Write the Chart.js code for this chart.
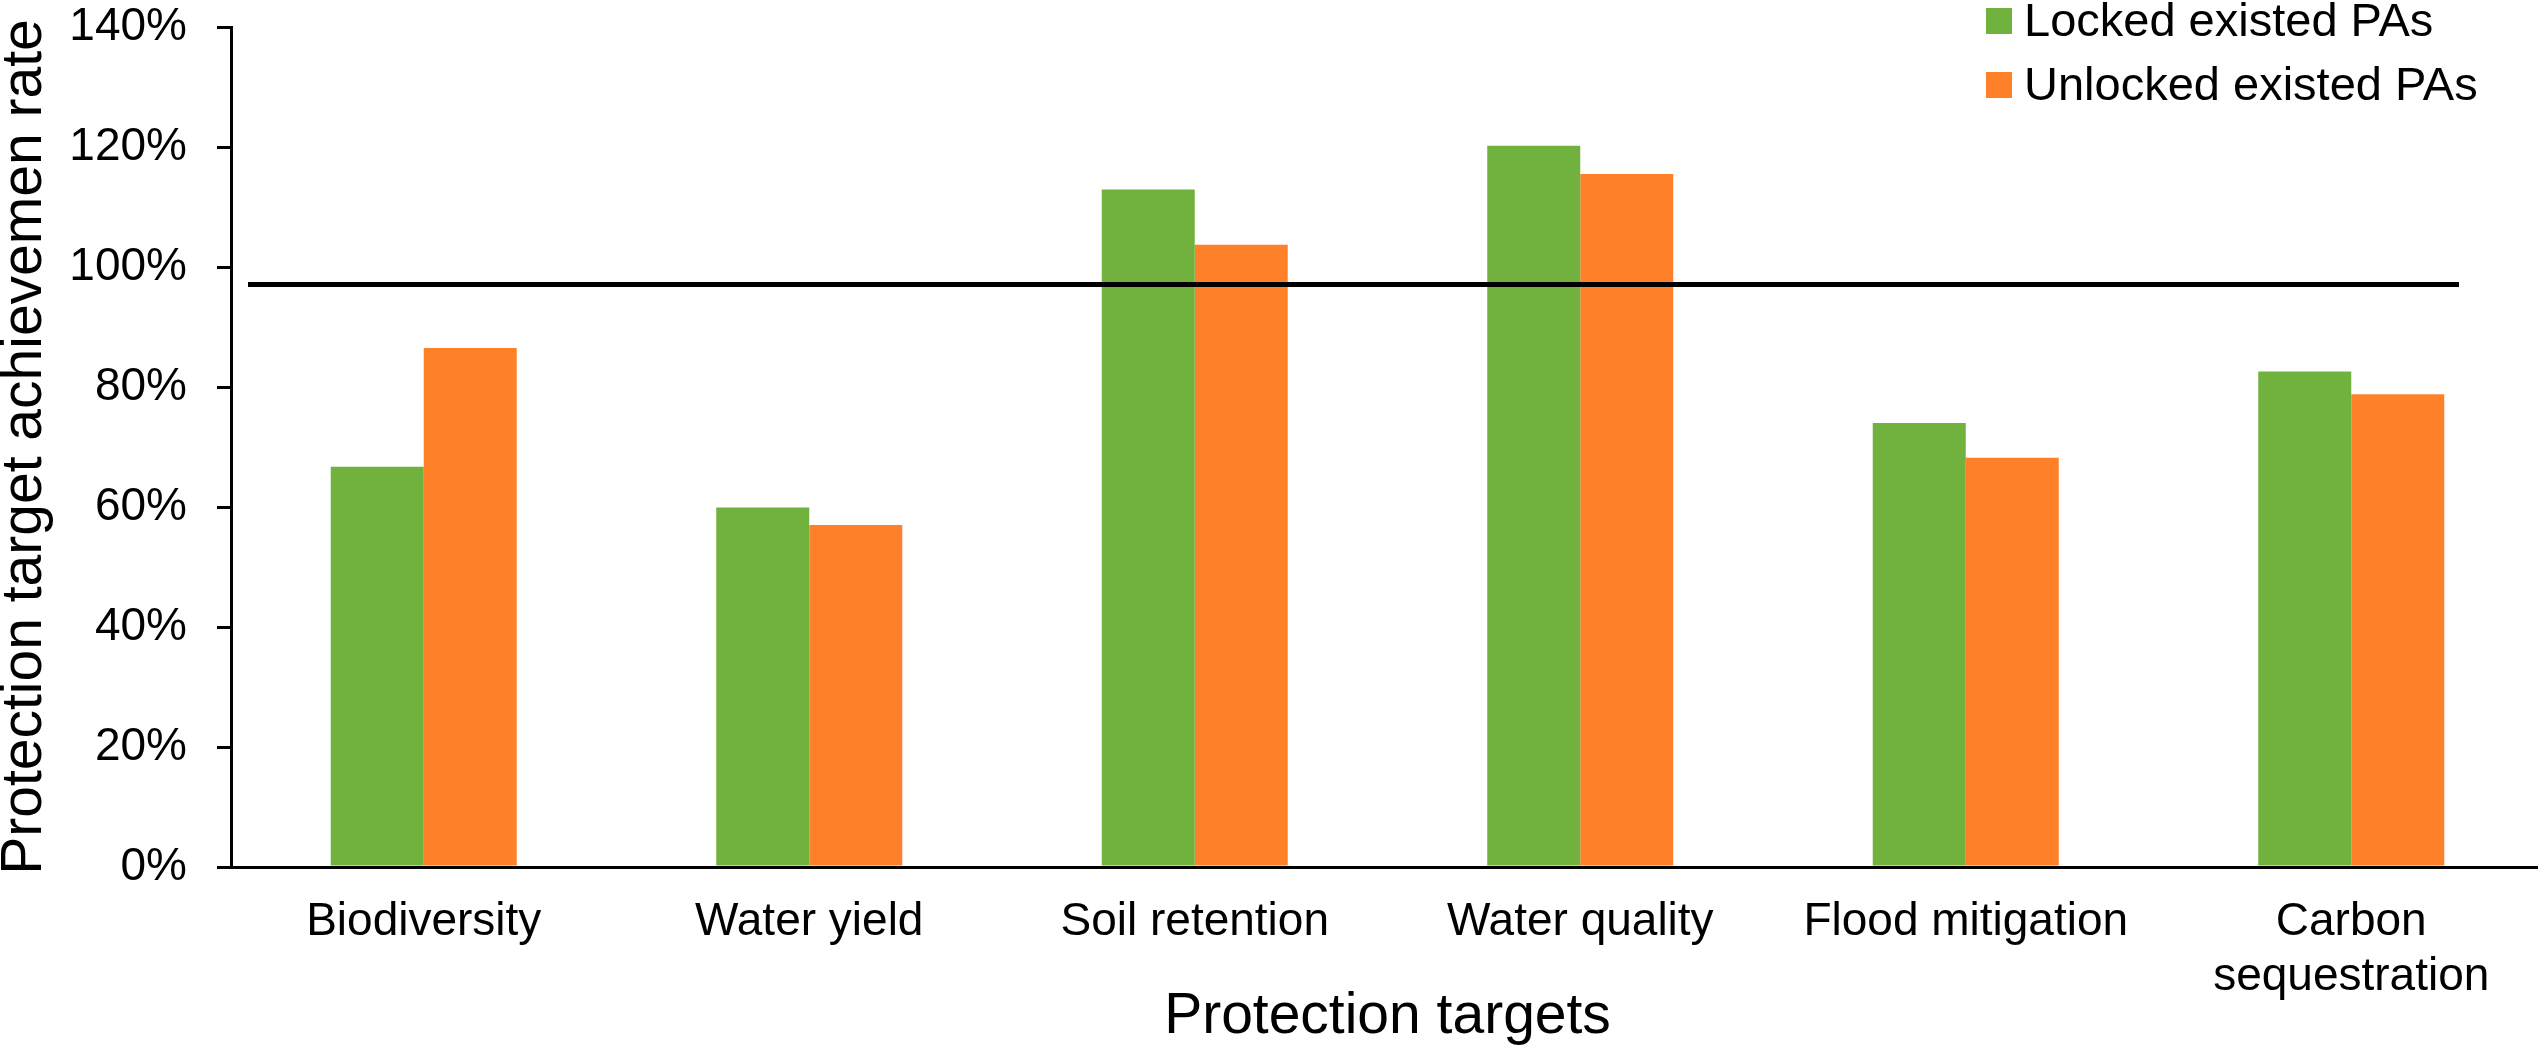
<!DOCTYPE html>
<html>
<head>
<meta charset="utf-8">
<script src="https://cdn.jsdelivr.net/npm/chart.js@4.4.1/dist/chart.umd.min.js"></script>
<style>
  html, body { margin: 0; padding: 0; background: #fff; overflow: hidden; }
  #wrap { width: 2544px; height: 1051px; position: relative; }
</style>
</head>
<body>
<div id="wrap"><canvas id="grafico"></canvas></div>
<script>
// dados (%)
const categorias = ['Biodiversity', 'Water yield', 'Soil retention', 'Water quality', 'Flood mitigation', ['Carbon', 'sequestration']];
const locked = [66.7, 59.9, 112.9, 120.2, 74.0, 82.6];
const unlocked = [86.5, 57.0, 103.7, 115.5, 68.2, 78.8];
const nomesSeries = ['Locked existed PAs', 'Unlocked existed PAs'];
const coresSeries = ['#71B23E', '#FE8028'];
const ticksY = [0, 20, 40, 60, 80, 100, 120, 140];
const linhaMeta = 97.1; // linha horizontal de referência

const fonte = '"Liberation Sans", Arial, sans-serif';

// linha de referência horizontal
const linhaPlugin = {
  id: 'linhaMeta',
  afterDatasetsDraw(chart) {
    const { ctx, chartArea, scales } = chart;
    const y = scales.y.getPixelForValue(linhaMeta);
    ctx.save();
    ctx.strokeStyle = '#000';
    ctx.lineWidth = 5;
    ctx.beginPath();
    ctx.moveTo(chartArea.left + 17, y);
    ctx.lineTo(chartArea.right - 85, y);
    ctx.stroke();
    ctx.restore();
  }
};

// legenda dentro da área do gráfico, canto superior direito
const legendaPlugin = {
  id: 'legendaDentro',
  afterDraw(chart) {
    const ctx = chart.ctx;
    ctx.save();
    ctx.font = '47px ' + fonte;
    ctx.textBaseline = 'alphabetic';
    ctx.textAlign = 'left';
    chart.data.datasets.forEach((ds, i) => {
      const top = 8 + i * 64;
      ctx.fillStyle = ds.backgroundColor;
      ctx.fillRect(1986, top, 26, 26);
      ctx.fillStyle = '#000';
      ctx.fillText(ds.label, 2024, top + 28);
    });
    ctx.restore();
  }
};

const ctx = document.getElementById('grafico').getContext('2d');
new Chart(ctx, {
  type: 'bar',
  data: {
    labels: categorias,
    datasets: [
      { label: nomesSeries[0], data: locked, backgroundColor: coresSeries[0], borderWidth: 0 },
      { label: nomesSeries[1], data: unlocked, backgroundColor: coresSeries[1], borderWidth: 0 }
    ]
  },
  options: {
    responsive: true,
    maintainAspectRatio: false,
    animation: false,
    layout: { padding: 0 },
    datasets: { bar: { categoryPercentage: 0.4825, barPercentage: 1 } },
    plugins: {
      legend: { display: false },
      tooltip: { enabled: false }
    },
    scales: {
      x: {
        grid: { display: false, drawTicks: false },
        border: { display: true, color: '#000', width: 3 },
        ticks: { color: '#000', font: { family: fonte, size: 46 }, padding: 28, maxRotation: 0, autoSkip: false },
        title: {
          display: true,
          text: 'Protection targets',
          color: '#000',
          font: { family: fonte, size: 57, lineHeight: 1.2 },
          padding: 0
        },
        afterFit(scale) { scale.height = 184; }
      },
      y: {
        min: 0,
        max: 140,
        afterBuildTicks(scale) { scale.ticks = ticksY.map(v => ({ value: v })); },
        grid: { drawOnChartArea: false, drawTicks: true, tickLength: 14, color: '#000', lineWidth: 3 },
        border: { display: true, color: '#000', width: 3 },
        ticks: {
          color: '#000',
          font: { family: fonte, size: 46 },
          padding: 30,
          callback: v => v + '%'
        },
        title: {
          display: true,
          text: 'Protection target achievemen rate',
          color: '#000',
          font: { family: fonte, size: 57, lineHeight: 0.9 },
          padding: 0
        },
        afterFit(scale) {
          scale.width = 231;
          scale.paddingTop = 27;
          scale.paddingBottom = 0;
        }
      }
    }
  },
  plugins: [linhaPlugin, legendaPlugin]
});
</script>
</body>
</html>
